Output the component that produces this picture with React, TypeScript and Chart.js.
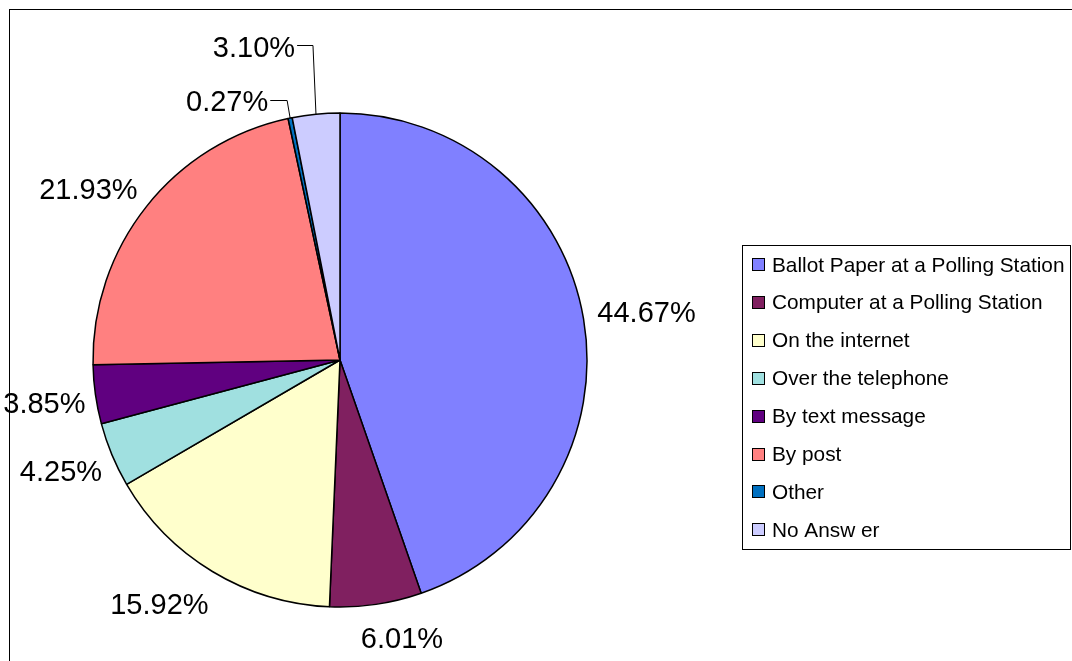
import React, { useEffect, useRef } from "react";
import { Chart, registerables } from "chart.js";

Chart.register(...registerables);

const categories = [
  "Ballot Paper at a Polling Station",
  "Computer at a Polling Station",
  "On the internet",
  "Over the telephone",
  "By text message",
  "By post",
  "Other",
  "No Answ er",
];
const shares = [44.67, 6.01, 15.92, 4.25, 3.85, 21.93, 0.27, 3.1];
const colors = ["#8080FF", "#802060", "#FFFFCC", "#A0E0E0", "#600080", "#FF8080", "#0070C0", "#CCCCFF"];

// label offsets (dx, dy) from each slice's outer mid-point; leader lines for the small ones
const labelNudge: [number, number][] = [
  [63, -7], [26, 33], [-53, 32], [-51, 16], [-51, 8], [-58, -18], [-63, -17], [-62, -68],
];
const withLeader = [false, false, false, false, false, false, true, true];

const FONT = '"Liberation Sans", Arial, sans-serif';

const decorPlugin = {
  id: "decor",
  beforeDraw(chart: any) {
    const ctx = chart.ctx;
    ctx.save();
    ctx.fillStyle = "#ffffff";
    ctx.fillRect(0, 0, chart.width, chart.height);
    ctx.strokeStyle = "#000";
    ctx.lineWidth = 1;
    ctx.strokeRect(9.5, 9.5, chart.width + 50, chart.height + 50);
    ctx.restore();
  },
  afterDatasetsDraw(chart: any) {
    const ctx = chart.ctx;
    const meta = chart.getDatasetMeta(0);
    const data = chart.data.datasets[0].data as number[];
    ctx.save();
    ctx.font = `29px ${FONT}`;
    ctx.fillStyle = "#000";
    ctx.strokeStyle = "#000";
    ctx.lineWidth = 1;
    ctx.textAlign = "center";
    ctx.textBaseline = "alphabetic";
    meta.data.forEach((el: any, i: number) => {
      const p = el.getProps(["x", "y", "startAngle", "endAngle", "outerRadius"], true);
      const mid = (p.startAngle + p.endAngle) / 2;
      const px = p.x + Math.cos(mid) * p.outerRadius;
      const py = p.y + Math.sin(mid) * p.outerRadius;
      const cx = px + labelNudge[i][0];
      const cy = py + labelNudge[i][1];
      const txt = data[i].toFixed(2) + "%";
      ctx.fillText(txt, cx, cy + 10.4);
      if (withLeader[i]) {
        const w = ctx.measureText(txt).width;
        const ly = Math.round(cy - 1) + 0.5;
        ctx.beginPath();
        ctx.moveTo(cx + w / 2 + 2, ly);
        ctx.lineTo(px - 3, ly);
        ctx.lineTo(px, py);
        ctx.stroke();
      }
    });
    ctx.restore();

    // legend
    const bx = 742.5, by = 245.5, bw = 328, bh = 304;
    ctx.save();
    ctx.fillStyle = "#fff";
    ctx.fillRect(bx, by, bw, bh);
    ctx.strokeStyle = "#000";
    ctx.lineWidth = 1;
    ctx.strokeRect(bx, by, bw, bh);
    ctx.font = `20.8px ${FONT}`;
    ctx.textAlign = "left";
    ctx.textBaseline = "alphabetic";
    (chart.data.labels as string[]).forEach((lab: string, i: number) => {
      const rowY = 264 + i * 37.9;
      const sy = Math.round(rowY - 6) + 0.5;
      ctx.fillStyle = colors[i];
      ctx.fillRect(752.5, sy, 12, 12);
      ctx.strokeStyle = "#000";
      ctx.strokeRect(752.5, sy, 12, 12);
      ctx.fillStyle = "#000";
      ctx.fillText(lab, 772, rowY + 7.5);
    });
    ctx.restore();
  },
};

export default function App() {
  const ref = useRef<HTMLCanvasElement | null>(null);
  useEffect(() => {
    if (!ref.current) return;
    const chart = new Chart(ref.current, {
      type: "pie",
      data: {
        labels: categories,
        datasets: [
          {
            data: shares,
            backgroundColor: colors,
            borderColor: "#000",
            borderWidth: 1.5,
          },
        ],
      },
      options: {
        responsive: false,
        animation: false,
        devicePixelRatio: 1,
        radius: 247,
        layout: { padding: { left: 0, right: 392, top: 59, bottom: 0 } },
        plugins: {
          legend: { display: false },
          tooltip: { enabled: false },
        },
      } as any,
      plugins: [decorPlugin],
    });
    return () => chart.destroy();
  }, []);
  return (
    <div style={{ position: "absolute", left: 0, top: 0, width: 1072, height: 661, background: "#fff" }}>
      <canvas ref={ref} width={1072} height={661} style={{ width: 1072, height: 661, display: "block" }} />
    </div>
  );
}
